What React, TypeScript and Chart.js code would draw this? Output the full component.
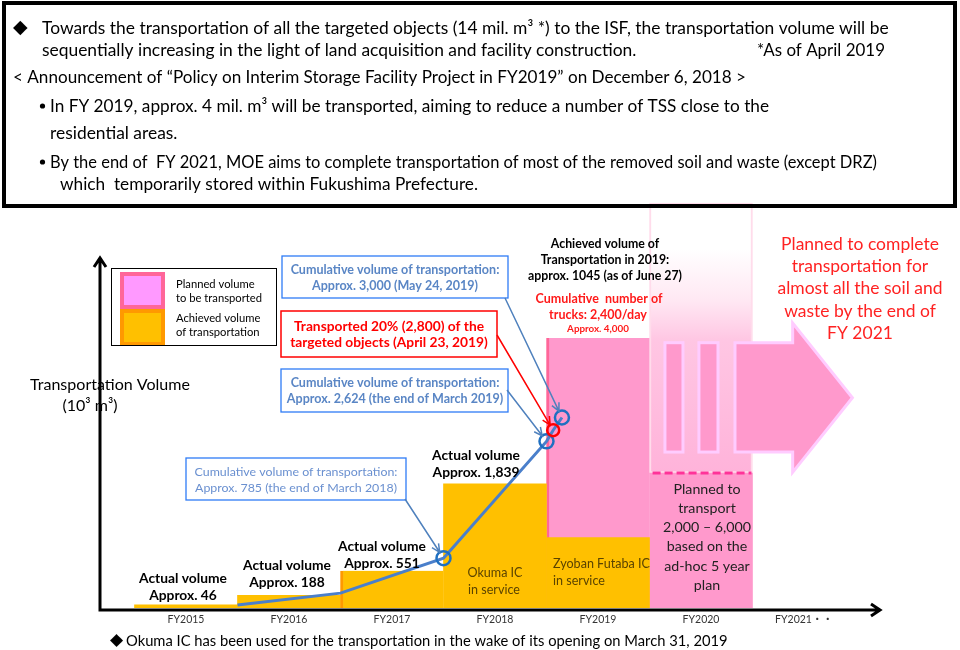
import React, { useEffect, useRef } from "react";
import { Chart, registerables } from "chart.js";

Chart.register(...registerables);

// ---------- data ----------
const FY_LABELS = ["FY2015", "FY2016", "FY2017", "FY2018", "FY2019", "FY2020", "FY2021・・"];
const ACHIEVED_X = [0, 1, 2, 3, 4];
const ACHIEVED = [46, 188, 551, 1839, 1045];
const PLANNED_X = [4, 5];
const PLANNED = [4000, 2000];
const PLAN_RANGE_X = 5;
const PLAN_RANGE = [2000, 6000];
const CUMULATIVE_X = [0.5, 1.5, 2.5, 3.5, 3.565, 3.65];
const CUMULATIVE = [46, 234, 785, 2624, 2800, 3000];

const SANS = "Lato, 'DejaVu Sans', 'Noto Sans CJK JP', sans-serif";

type TOpt = { size: number; color?: string; bold?: boolean; align?: CanvasTextAlign; maxW?: number; family?: string };
function drawText(c: CanvasRenderingContext2D, s: string, x: number, y: number, o: TOpt) {
  c.save();
  c.font = `${o.bold ? "bold " : ""}${o.size}px ${o.family || SANS}`;
  c.fillStyle = o.color || "#000";
  c.textAlign = o.align || "left";
  c.textBaseline = "middle";
  if (o.maxW) c.fillText(s, x, y, o.maxW);
  else c.fillText(s, x, y);
  c.restore();
}

// font size that makes string s take width target
function fit(c: CanvasRenderingContext2D, s: string, bold: boolean, target: number) {
  const base = 20;
  c.save();
  c.font = `${bold ? "bold " : ""}${base}px ${SANS}`;
  const w = c.measureText(s).width;
  c.restore();
  return (base * target) / w;
}

function arrowTo(c: CanvasRenderingContext2D, x1: number, y1: number, x2: number, y2: number, color: string, w: number, stopShort = 0) {
  const ang = Math.atan2(y2 - y1, x2 - x1);
  const ex = x2 - Math.cos(ang) * stopShort;
  const ey = y2 - Math.sin(ang) * stopShort;
  c.save();
  c.strokeStyle = color;
  c.lineWidth = w;
  c.beginPath();
  c.moveTo(x1, y1);
  c.lineTo(ex, ey);
  const L = 9;
  const a = 0.45;
  c.moveTo(ex - L * Math.cos(ang - a), ey - L * Math.sin(ang - a));
  c.lineTo(ex, ey);
  c.lineTo(ex - L * Math.cos(ang + a), ey - L * Math.sin(ang + a));
  c.stroke();
  c.restore();
}

function box(c: CanvasRenderingContext2D, x: number, y: number, w: number, h: number, color: string, lw: number) {
  c.save();
  c.fillStyle = "#fff";
  c.fillRect(x, y, w, h);
  c.strokeStyle = color;
  c.lineWidth = lw;
  c.strokeRect(x, y, w, h);
  c.restore();
}

function dot(c: CanvasRenderingContext2D, x: number, y: number, r: number) {
  c.save();
  c.fillStyle = "#000";
  c.beginPath();
  c.arc(x, y, r, 0, Math.PI * 2);
  c.fill();
  c.restore();
}

const decoPlugin = {
  id: "deco",
  afterDatasetsDraw(chart: any) {
    const c: CanvasRenderingContext2D = chart.ctx;
    const xs = chart.scales.x;
    const ys = chart.scales.y;
    const X = (v: number) => xs.getPixelForValue(v);
    const Y = (v: number) => ys.getPixelForValue(v);
    const f = PLAN_RANGE_X;
    c.save();
    // broken big arrow
    c.fillStyle = "#FF99CC";
    c.strokeStyle = "#FFCCFF";
    c.lineWidth = 3;
    [[-0.35, -0.175], [-0.02, 0.165]].forEach(([a, b]) => {
      const x0 = X(f + a), x1 = X(f + b);
      c.fillRect(x0, Y(3930), x1 - x0, Y(2310) - Y(3930));
      c.strokeRect(x0, Y(3930), x1 - x0, Y(2310) - Y(3930));
    });
    c.beginPath();
    c.moveTo(X(f + 0.33), Y(3930));
    c.lineTo(X(f + 0.89), Y(3930));
    c.lineTo(X(f + 0.89), Y(4220));
    c.lineTo(X(f + 1.47), (Y(4220) + Y(2010)) / 2);
    c.lineTo(X(f + 0.89), Y(2010));
    c.lineTo(X(f + 0.89), Y(2310));
    c.lineTo(X(f + 0.33), Y(2310));
    c.closePath();
    c.fill();
    c.stroke();
    // dashed line at lower plan value
    c.strokeStyle = "#FF3399";
    c.lineWidth = 3;
    c.setLineDash([8, 4]);
    c.beginPath();
    c.moveTo(X(f - 0.47), Y(PLAN_RANGE[0]));
    c.lineTo(X(f + 0.49), Y(PLAN_RANGE[0]));
    c.stroke();
    c.restore();
  },
  afterDraw(chart: any) {
    const c: CanvasRenderingContext2D = chart.ctx;
    const ca = chart.chartArea;
    const xs = chart.scales.x;
    const y2 = chart.scales.y2;
    const P = (i: number) => ({ x: xs.getPixelForValue(CUMULATIVE_X[i]), y: y2.getPixelForValue(CUMULATIVE[i]) });

    // ---- top text box ----
    c.save();
    c.strokeStyle = "#000";
    c.lineWidth = 4;
    c.strokeRect(4, 3, 951, 203);
    c.restore();
    const L1 = "Towards the transportation of all the targeted objects (14 mil. m³ *) to the ISF, the transportation volume will be";
    const T = fit(c, L1, false, 847);
    drawText(c, "◆", 13, 28, { size: 19, family: "'DejaVu Sans'" });
    drawText(c, L1, 42, 28, { size: T, maxW: 848 });
    drawText(c, "sequentially increasing in the light of land acquisition and facility construction.", 42, 50, { size: T, maxW: 597 });
    drawText(c, "*As of April 2019", 757, 50, { size: T, maxW: 128 });
    drawText(c, "< Announcement of “Policy on Interim Storage Facility Project in FY2019” on December 6, 2018 >", 13, 77, { size: T, maxW: 733 });
    dot(c, 42.5, 106, 2.6);
    drawText(c, "In FY 2019, approx. 4 mil. m³ will be transported, aiming to reduce a number of TSS close to the", 50, 106, { size: T, maxW: 719 });
    drawText(c, "residential areas.", 50, 133, { size: T });
    dot(c, 42.5, 162, 2.6);
    drawText(c, "By the end of  FY 2021, MOE aims to complete transportation of most of the removed soil and waste (except DRZ)", 50, 162, { size: T, maxW: 827 });
    drawText(c, "which  temporarily stored within Fukushima Prefecture.", 60, 184, { size: T, maxW: 418 });

    // ---- axes with arrows ----
    c.save();
    c.strokeStyle = "#000";
    c.lineWidth = 3;
    const ax = ca.left;
    const ay = ca.bottom + 2;
    c.beginPath();
    c.moveTo(ax, ay + 1.5);
    c.lineTo(ax, 258);
    c.moveTo(ax - 6, 267);
    c.lineTo(ax, 258);
    c.lineTo(ax + 6, 267);
    c.moveTo(ax - 1.5, ay);
    c.lineTo(ca.right, ay);
    c.moveTo(ca.right - 9, ay - 6);
    c.lineTo(ca.right, ay);
    c.lineTo(ca.right - 9, ay + 6);
    c.stroke();
    c.restore();

    const tv = fit(c, "Transportation Volume", false, 160);
    drawText(c, "Transportation Volume", 110, 385, { size: tv, align: "center" });
    drawText(c, "(10³ m³)", 90, 406, { size: tv, align: "center" });

    // ---- legend ----
    c.save();
    c.fillStyle = "#fff";
    c.fillRect(111, 268, 165, 77);
    c.strokeStyle = "#000";
    c.lineWidth = 1;
    c.strokeRect(111.5, 268.5, 165, 77);
    c.fillStyle = "#FF6699";
    c.fillRect(120, 272, 45, 37);
    c.fillStyle = "#FF99FF";
    c.fillRect(124, 276, 37, 29);
    c.fillStyle = "#FF9900";
    c.fillRect(120, 309, 45, 36);
    c.fillStyle = "#FFC000";
    c.fillRect(124, 313, 37, 29);
    c.restore();
    const lg = fit(c, "to be transported", false, 86);
    drawText(c, "Planned volume", 176, 284, { size: lg });
    drawText(c, "to be transported", 176, 298, { size: lg });
    drawText(c, "Achieved volume", 176, 318, { size: lg });
    drawText(c, "of transportation", 176, 332, { size: lg });

    // ---- bar labels ----
    const av = fit(c, "Actual volume", true, 88);
    const lab = (l2: string, x: number, y: number) => {
      drawText(c, "Actual volume", x, y, { size: av, bold: true, align: "center" });
      drawText(c, l2, x, y + 17, { size: av, bold: true, align: "center" });
    };
    lab("Approx. 46", 183, 579);
    lab("Approx. 188", 287, 566);
    lab("Approx. 551", 382, 547);
    lab("Approx. 1,839", 476, 456);

    const inBar = "#5A4300";
    const ib = fit(c, "Zyoban Futaba IC", false, 97);
    drawText(c, "Okuma IC", 495, 573, { size: ib, color: inBar, align: "center" });
    drawText(c, "in service", 494, 590, { size: ib, color: inBar, align: "center" });
    drawText(c, "Zyoban Futaba IC", 553, 564, { size: ib, color: inBar });
    drawText(c, "in service", 553, 581, { size: ib, color: inBar });

    const plan = ["Planned to", "transport", "2,000 – 6,000", "based on the", "ad-hoc 5 year", "plan"];
    const pl = fit(c, "2,000 – 6,000", false, 88);
    plan.forEach((s, i) => drawText(c, s, 707, 489 + i * 19.3, { size: pl, color: "#222", align: "center" }));

    const ac = fit(c, "approx. 1045 (as of June 27)", true, 154);
    drawText(c, "Achieved volume of", 605, 244, { size: ac, bold: true, align: "center" });
    drawText(c, "Transportation in 2019:", 605, 260, { size: ac, bold: true, align: "center" });
    drawText(c, "approx. 1045 (as of June 27)", 605, 276, { size: ac, bold: true, align: "center" });
    const tr = fit(c, "Cumulative  number of", true, 127);
    drawText(c, "Cumulative  number of", 599, 299, { size: tr, bold: true, color: "#FF1A1A", align: "center" });
    drawText(c, "trucks: 2,400/day", 598, 315, { size: tr, bold: true, color: "#FF1A1A", align: "center" });
    drawText(c, "Approx. 4,000", 598, 329, { size: fit(c, "Approx. 4,000", true, 62), bold: true, color: "#FF1A1A", align: "center" });

    const big = ["Planned to complete", "transportation for", "almost all the soil and", "waste by the end of", "FY 2021"];
    const bg = fit(c, "almost all the soil and", false, 165);
    big.forEach((s, i) => drawText(c, s, 860, 244 + i * 22.4, { size: bg, color: "#FF2222", align: "center" }));

    // ---- callout boxes ----
    const blueBorder = "#2E7CF6";
    const blueText = "#5A86C5";
    const lead = "#4F81BD";
    box(c, 186, 458, 220, 42, blueBorder, 1.3);
    const b1 = fit(c, "Cumulative volume of transportation:", false, 203);
    drawText(c, "Cumulative volume of transportation:", 296, 472, { size: b1, color: "#6A90D0", align: "center" });
    drawText(c, "Approx. 785 (the end of March 2018)", 296, 488, { size: b1, color: "#6A90D0", align: "center" });

    const bb = fit(c, "Cumulative volume of transportation:", true, 209);
    box(c, 282, 256, 226, 42, blueBorder, 1.3);
    drawText(c, "Cumulative volume of transportation:", 395, 270, { size: bb, bold: true, color: blueText, align: "center" });
    drawText(c, "Approx. 3,000 (May 24, 2019)", 395, 286, { size: bb, bold: true, color: blueText, align: "center" });

    const rb = fit(c, "targeted objects (April 23, 2019)", true, 198);
    box(c, 281, 311, 216, 46, "#FF0000", 1.5);
    drawText(c, "Transported 20% (2,800) of the", 389, 327, { size: rb, bold: true, color: "#FF0000", align: "center" });
    drawText(c, "targeted objects (April 23, 2019)", 389, 343, { size: rb, bold: true, color: "#FF0000", align: "center" });

    box(c, 281, 369, 227, 43, blueBorder, 1.3);
    drawText(c, "Cumulative volume of transportation:", 395, 383, { size: bb, bold: true, color: blueText, align: "center" });
    drawText(c, "Approx. 2,624 (the end of March 2019)", 395, 399, { size: bb, bold: true, color: blueText, align: "center", maxW: 218 });

    // leader arrows to the data points
    const p2 = P(2), p3 = P(3), p4 = P(4), p5 = P(5);
    arrowTo(c, 405, 499, p2.x, p2.y, lead, 1.5, 7);
    arrowTo(c, 505, 298, p5.x, p5.y, lead, 1.5, 7);
    arrowTo(c, 497, 335, p4.x, p4.y, "#FF0000", 1.5, 6);
    arrowTo(c, 507, 390, p3.x, p3.y, lead, 1.5, 7);

    const FN = "Okuma IC has been used for the transportation in the wake of its opening on March 31, 2019";
    const fn = fit(c, FN, false, 602);
    drawText(c, "◆", 110, 641, { size: 17, family: "'DejaVu Sans'" });
    drawText(c, FN, 126, 641, { size: fn });
  },
};

export default function App() {
  const ref = useRef<HTMLCanvasElement>(null);
  useEffect(() => {
    document.body.style.margin = "0";
    const canvas = ref.current!;
    const gradient = (ctx: any) => {
      const chart = ctx.chart;
      const { chartArea, scales } = chart;
      if (!chartArea) return "#FFC0E0";
      const top = scales.y.getPixelForValue(PLAN_RANGE[1]);
      const bot = scales.y.getPixelForValue(PLAN_RANGE[0]);
      const g = chart.ctx.createLinearGradient(0, top, 0, bot);
      g.addColorStop(0, "#FFFFFF");
      g.addColorStop(0.17, "#FFFFFF");
      g.addColorStop(0.36, "#FFE8F3");
      g.addColorStop(0.51, "#FFC6E3");
      g.addColorStop(1, "#FFB3DA");
      return g;
    };
    const chart = new Chart(canvas, {
      type: "bar",
      data: {
        datasets: [
          {
            type: "line",
            label: "Cumulative volume",
            data: CUMULATIVE.map((v, i) => ({ x: CUMULATIVE_X[i], y: v })),
            yAxisID: "y2",
            borderColor: "#4A7FCB",
            borderWidth: 3,
            pointRadius: [0, 0, 7, 7, 6, 7],
            pointBorderWidth: 2.5,
            pointBorderColor: ["#1F70C1", "#1F70C1", "#1F70C1", "#1F70C1", "#FF0000", "#1F70C1"],
            pointBackgroundColor: "rgba(0,0,0,0)",
            tension: 0,
            order: 0,
          } as any,
          {
            label: "Achieved volume of transportation",
            data: ACHIEVED.map((v, i) => ({ x: ACHIEVED_X[i], y: v })),
            backgroundColor: "#FFC000",
            borderColor: "#FF9900",
            borderWidth: ((ctx: any) => (ctx.dataIndex === 2 ? { left: 3, right: 0, top: 0, bottom: 0 } : 0)) as any,
            grouped: false,
            barPercentage: 1,
            categoryPercentage: 1,
            order: 1,
          },
          {
            label: "Planned volume to be transported",
            data: PLANNED.map((v, i) => ({ x: PLANNED_X[i], y: v })),
            backgroundColor: "#FF99CC",
            borderColor: "#FF6699",
            borderWidth: ((ctx: any) => (ctx.dataIndex === 0 ? { left: 3, right: 0, top: 0, bottom: 0 } : 0)) as any,
            grouped: false,
            barPercentage: 1,
            categoryPercentage: 1,
            order: 2,
          },
          {
            label: "Planned range FY2020",
            data: [{ x: PLAN_RANGE_X, y: PLAN_RANGE }],
            backgroundColor: gradient,
            borderColor: "#FFDCEB",
            borderWidth: 2,
            borderSkipped: false,
            grouped: false,
            barPercentage: 1,
            categoryPercentage: 1,
            order: 3,
          } as any,
        ],
      },
      options: {
        responsive: false,
        animation: false,
        layout: { padding: { left: 100, right: 80, top: 200, bottom: 19.4 } },
        plugins: { legend: { display: false }, tooltip: { enabled: false } },
        scales: {
          x: {
            type: "linear",
            offset: false,
            min: -0.835,
            max: 6.738,
            grid: { display: false, drawTicks: false },
            border: { display: false },
            ticks: {
              stepSize: 1,
              includeBounds: false,
              autoSkip: false,
              maxRotation: 0,
              padding: 5,
              color: "#333",
              font: { family: SANS, size: 10.5 },
              callback: (v: any) => (Number.isInteger(v) ? FY_LABELS[v] ?? "" : ""),
            },
          },
          y: { display: false, min: 0, max: 6044 },
          y2: { display: false, min: 0, max: 6425, position: "right" },
        },
      } as any,
      plugins: [decoPlugin],
    });
    return () => chart.destroy();
  }, []);
  return <canvas ref={ref} width={960} height={650} style={{ display: "block", width: 960, height: 650 }} />;
}
